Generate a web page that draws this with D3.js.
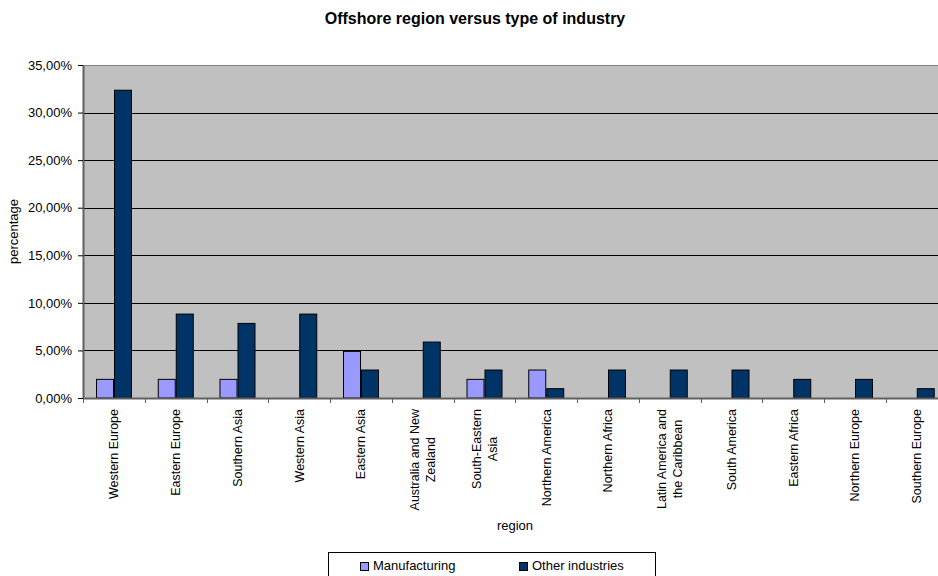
<!DOCTYPE html>
<html><head><meta charset="utf-8">
<script src="https://cdn.jsdelivr.net/npm/d3@7"></script>
<style>body{margin:0;background:#fff;} svg{display:block;font-family:"Liberation Sans",Arial,sans-serif;}</style>
</head><body>
<svg id="c" width="938" height="576"></svg>
<script>
const categories = [["Western Europe"],["Eastern Europe"],["Southern Asia"],["Western Asia"],["Eastern Asia"],["Australia and New","Zealand"],["South-Eastern","Asia"],["Northern America"],["Northern Africa"],["Latin America and","the Caribbean"],["South America"],["Eastern Africa"],["Northern Europe"],["Southern Europe"]];
const manufacturing = [1.96,1.96,1.96,0,4.90,0,1.96,2.94,0,0,0,0,0,0];
const otherIndustries = [32.35,8.82,7.84,8.82,2.94,5.88,2.94,0.98,2.94,2.94,2.94,1.96,1.96,0.98];
const seriesNames = ["Manufacturing","Other industries"];
const seriesColors = ["#9999FF","#003366"];
const yTicks = [0,5,10,15,20,25,30,35];

const svg = d3.select("#c");
const L = 83, T = 65, B = 398, catW = 61.75;
const R = L + catW*categories.length;
const keys = categories.map((d,i)=>i);
const x = d3.scaleBand().domain(keys).range([L,R]);
const xs = d3.scaleBand().domain([0,1]).range([13,13+36]);
const y = d3.scaleLinear().domain([0,35]).range([B,T]);

svg.append("rect").attr("x",L).attr("y",T).attr("width",R-L).attr("height",B-T).attr("fill","#C0C0C0");
svg.append("line").attr("x1",L).attr("x2",R).attr("y1",T+0.5).attr("y2",T+0.5).attr("stroke","#808080").attr("stroke-width",1);
svg.append("g").selectAll("line").data(yTicks.filter(v=>v>0&&v<35)).join("line")
  .attr("x1",L).attr("x2",R).attr("y1",d=>Math.round(y(d))+0.5).attr("y2",d=>Math.round(y(d))+0.5)
  .attr("stroke","#000").attr("stroke-width",1);

const data = [manufacturing, otherIndustries];
data.forEach((vals,si)=>{
  svg.append("g").selectAll("rect").data(vals.map((v,i)=>({v,i})).filter(d=>d.v>0)).join("rect")
    .attr("x",d=>x(d.i)+xs(si)+0.5).attr("width",xs.bandwidth()-1)
    .attr("y",d=>y(d.v)).attr("height",d=>B-y(d.v))
    .attr("fill",seriesColors[si]).attr("stroke","#000").attr("stroke-width",1);
});

const ya = svg.append("g").attr("transform",`translate(${L},0)`)
  .call(d3.axisLeft(y).tickValues(yTicks).tickSize(5).tickSizeOuter(0).tickFormat(d=>d3.format(".2f")(d).replace(".",",")+"%"));
ya.select(".domain").attr("stroke","#606060").attr("stroke-width",2);
ya.selectAll(".tick line").attr("stroke","#000");
ya.selectAll(".tick text").attr("font-size",13).attr("fill","#000").attr("x",-11).attr("font-family","Liberation Sans, Arial, sans-serif");

svg.append("line").attr("x1",L).attr("x2",R).attr("y1",B+0.5).attr("y2",B+0.5).attr("stroke","#606060").attr("stroke-width",2);
svg.append("g").selectAll("line").data(d3.range(categories.length+1)).join("line")
  .attr("x1",d=>Math.round(L+d*catW)+0.5).attr("x2",d=>Math.round(L+d*catW)+0.5)
  .attr("y1",B).attr("y2",B+5).attr("stroke","#606060");

const xl = svg.append("g");
categories.forEach((lines,i)=>{
  const cx = x(i)+x.bandwidth()/2;
  const n = lines.length;
  const texts = lines.map((t,j)=>{
    const off = (j-(n-1)/2)*15.5;
    return xl.append("text").attr("transform",`translate(${cx+off+4.5},${B+11}) rotate(-90)`)
      .attr("text-anchor", n>1 ? "middle" : "end").attr("font-size",12.5).attr("fill","#000")
      .text(t);
  });
  if(n>1){
    const m = d3.max(texts,t=>t.node().getComputedTextLength());
    texts.forEach(t=>t.attr("x",-m/2));
  }
});

svg.append("text").attr("x",515).attr("y",530).attr("text-anchor","middle").attr("font-size",13).text("region");
svg.append("text").attr("transform",`translate(17.5,${(T+B)/2}) rotate(-90)`).attr("text-anchor","middle").attr("font-size",13).text("percentage");
svg.append("text").attr("x",475).attr("y",24).attr("text-anchor","middle").attr("font-size",16).attr("font-weight","bold").text("Offshore region versus type of industry");

const lg = svg.append("g");
lg.append("rect").attr("x",328.5).attr("y",552.5).attr("width",327).attr("height",30).attr("fill","#fff").attr("stroke","#000");
const lx = [360,519];
seriesNames.forEach((s,i)=>{
  lg.append("rect").attr("x",lx[i]+0.5).attr("y",562.5).attr("width",8).attr("height",8).attr("fill",seriesColors[i]).attr("stroke","#000");
  lg.append("text").attr("x",lx[i]+13).attr("y",569.5).attr("font-size",13).text(s);
});
</script>
</body></html>
